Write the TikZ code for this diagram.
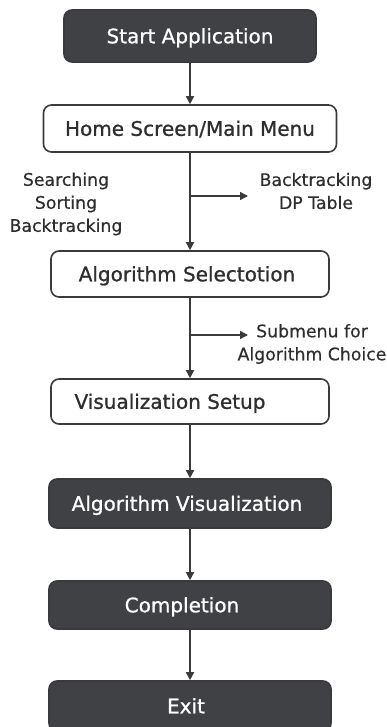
\documentclass[tikz,border=0pt]{standalone}
\usepackage{fontspec}
\setmainfont{DejaVu Sans}
\newfontfamily\boxfont[FakeBold=0.9]{DejaVu Sans}
\newfontfamily\lblfont[FakeBold=0.4]{DejaVu Sans}
\usetikzlibrary{arrows.meta}
\definecolor{boxdark}{HTML}{404145}
\definecolor{linec}{HTML}{3A3A3C}
\definecolor{textc}{HTML}{2E2E30}
\tikzset{
  basebox/.style={rounded corners=8pt, line width=1.6pt, draw=linec, inner sep=0pt,
    font=\boxfont\fontsize{20}{24}\selectfont, text height=14.6pt, text depth=0pt, anchor=center},
  darkbox/.style={basebox, fill=boxdark, text=white},
  lightbox/.style={basebox, fill=white, text=textc},
  arr/.style={draw=linec, line width=1.4pt, -{Triangle[length=8pt,width=8pt]}},
  lbl/.style={text=textc, align=center, font=\lblfont\fontsize{17.3}{23}\selectfont, inner sep=0pt}
}
\begin{document}
\begin{tikzpicture}[x=1pt,y=-1pt]
\useasboundingbox (0,0) rectangle (386,727);
\clip (0,0) rectangle (386,727);
\fill[white] (0,0) rectangle (386,727);

\node[darkbox, minimum width=252pt, minimum height=52pt] (start) at (190,36) {Start Application};
\node[lightbox, minimum width=293pt, minimum height=47pt] (home) at (190,128.5) {Home Screen/Main Menu};
\node[lightbox, minimum width=278pt, minimum height=46pt] (algsel) at (190,274) {\hspace*{-6pt}Algorithm Selectotion};
\node[lightbox, minimum width=278pt, minimum height=45pt] (vissetup) at (190,401.5) {\hspace*{-40pt}Visualization Setup};
\node[darkbox, minimum width=282pt, minimum height=49pt] (algvis) at (190,503.5) {\hspace*{-6pt}Algorithm Visualization};
\node[darkbox, minimum width=282pt, minimum height=48pt] (compl) at (190,605) {\hspace*{-16pt}Completion};
\node[darkbox, minimum width=282pt, minimum height=50pt] (exit) at (190,706) {\hspace*{-8pt}Exit};

\draw[arr] (start.south) -- (home.north);
\draw[arr] (home.south) -- (algsel.north);
\draw[arr] (algsel.south) -- (vissetup.north);
\draw[arr] (vissetup.south) -- (algvis.north);
\draw[arr] (algvis.south) -- (compl.north);
\draw[arr] (compl.south) -- (exit.north);

\coordinate (b1) at (190,196);
\coordinate (b1e) at (248,196);
\draw[arr] (b1) -- (b1e);
\coordinate (b2) at (190,335);
\coordinate (b2e) at (248,335);
\draw[arr] (b2) -- (b2e);

\node[lbl] (lleft) at (66,204) {Searching\\Sorting\\Backtracking};
\node[lbl] (lright) at (316,191) {Backtracking\\DP Table};
\node[lbl] (lsub) at (312,344) {Submenu for\\Algorithm Choice};
\end{tikzpicture}
\end{document}
